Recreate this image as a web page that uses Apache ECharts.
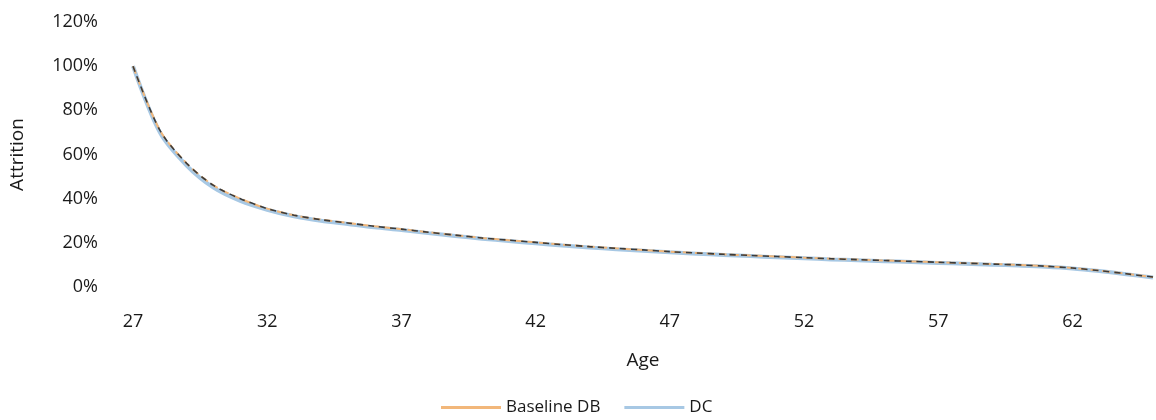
<!DOCTYPE html>
<html>
<head>
<meta charset="utf-8">
<script src="https://cdn.jsdelivr.net/npm/echarts@6/dist/echarts.min.js"></script>
<style>html,body{margin:0;padding:0;background:#fff;}#c{width:1156px;height:420px;}</style>
</head>
<body>
<div id="c"></div>
<script>
const ages = ['27','28','29','30','31','32','33','34','35','36','37','38','39','40','41','42','43','44','45','46','47','48','49','50','51','52','53','54','55','56','57','58','59','60','61','62','63','64','65'];
const baselineDB = [1.00,0.71,0.56,0.46,0.40,0.355,0.325,0.305,0.29,0.275,0.262,0.248,0.235,0.222,0.212,0.202,0.192,0.183,0.175,0.168,0.160,0.154,0.148,0.143,0.138,0.133,0.128,0.124,0.120,0.116,0.112,0.108,0.104,0.100,0.094,0.086,0.074,0.060,0.045];
const dc = [1.00,0.70,0.55,0.45,0.39,0.35,0.32,0.30,0.285,0.27,0.258,0.244,0.231,0.219,0.208,0.198,0.188,0.179,0.171,0.164,0.157,0.151,0.145,0.140,0.135,0.130,0.125,0.121,0.117,0.113,0.109,0.105,0.101,0.097,0.092,0.084,0.072,0.058,0.043];
const yTicks = [0,0.2,0.4,0.6,0.8,1.0,1.2];

const font = '"Open Sans", "DejaVu Sans", sans-serif';
const chart = echarts.init(document.getElementById('c'), null, {renderer:'canvas'});
chart.setOption({
  animation:false,
  backgroundColor:'#fff',
  grid:{left:132,right:3,top:22,bottom:133,containLabel:false},
  legend:{
    top:394,left:436,itemWidth:60,itemHeight:3,itemGap:24,
    icon:'rect',
    textStyle:{fontFamily:font,fontSize:17,color:'#1a1a1a'},
    data:['Baseline DB','DC']
  },
  xAxis:{
    type:'category',data:ages,boundaryGap:false,
    name:'Age',nameLocation:'middle',nameGap:64,
    nameTextStyle:{fontFamily:font,fontSize:19,color:'#1a1a1a'},
    axisLine:{show:false},axisTick:{show:false},
    axisLabel:{interval:4,margin:26,fontFamily:font,fontSize:18,color:'#1a1a1a'}
  },
  yAxis:{
    type:'value',min:0,max:1.2,interval:0.2,
    name:'Attrition',nameLocation:'middle',nameGap:106,
    nameTextStyle:{fontFamily:font,fontSize:19,color:'#1a1a1a'},
    axisLine:{show:false},axisTick:{show:false},splitLine:{show:false},
    axisLabel:{margin:35,fontFamily:font,fontSize:18,color:'#1a1a1a',
      formatter:v=>{const t=yTicks.find(x=>Math.abs(x-v)<1e-6);return Math.round((t!==undefined?t:v)*100)+'%';}}
  },
  series:[
    {name:'Baseline DB',type:'line',data:baselineDB,symbol:'none',smooth:0.3,z:3,
     lineStyle:{color:'#f2b77a',width:2,type:'dashed'},itemStyle:{color:'#f2b77a'}},
    {name:'DC',type:'line',data:dc,symbol:'none',smooth:0.3,z:2,
     lineStyle:{color:'#a7c8e4',width:4},itemStyle:{color:'#a7c8e4'}},
    {name:'Baseline DB',type:'line',data:baselineDB,symbol:'none',smooth:0.3,z:4,silent:true,
     lineStyle:{color:'#3b3b3b',width:1.6,type:[6,5]},itemStyle:{color:'#f2b77a'}}
  ]
});
</script>
</body>
</html>
